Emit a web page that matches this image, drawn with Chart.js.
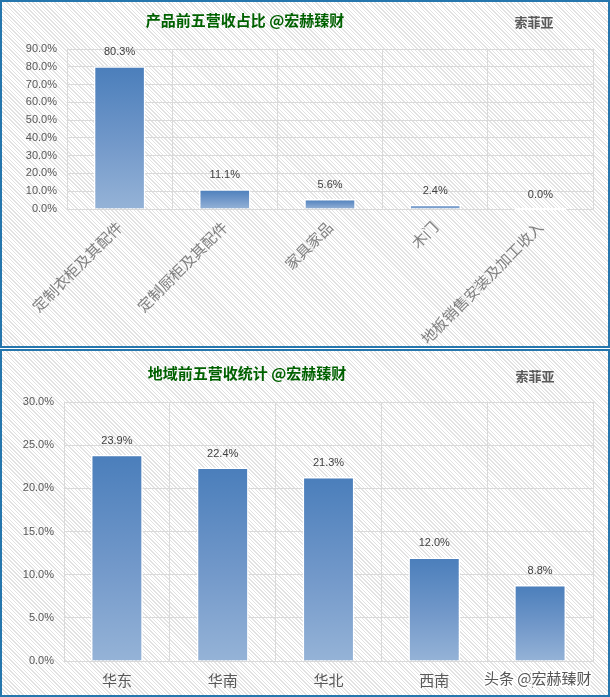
<!DOCTYPE html>
<html><head><meta charset="utf-8">
<script src="https://cdn.jsdelivr.net/npm/chart.js@4/dist/chart.umd.min.js"></script>
<style>
html,body{margin:0;padding:0;background:#fff;}
.box{position:absolute;left:0;width:610px;height:348px;box-sizing:border-box;border:2px solid #2576ad;
background:repeating-linear-gradient(45deg,#ffffff 0px,#ffffff 1.6px,#e2e2e2 1.6px,#e2e2e2 2.6px);}
#b1{top:0}
#b2{top:349px}
canvas{display:block}
</style></head><body>
<div class="box" id="b1"><canvas id="c1" width="606" height="344"></canvas></div>
<div class="box" id="b2"><canvas id="c2" width="606" height="344"></canvas></div>
<script>
const productCats = ['定制衣柜及其配件','定制厨柜及其配件','家具家品','木门','地板销售安装及加工收入'];
const productVals = [80.3, 11.1, 5.6, 2.4, 0.0];
const productTickMax = 90, productTickStep = 10;
const regionCats = ['华东','华南','华北','西南','华中'];
const regionVals = [23.9, 22.4, 21.3, 12.0, 8.8];
const regionTickMax = 30, regionTickStep = 5;

const title1 = '产品前五营收占比 @宏赫臻财';
const title2 = '地域前五营收统计 @宏赫臻财';
const brand = '索菲亚';
const watermark = '头条 @宏赫臻财';

const CJK = '"Noto Sans CJK SC", "Noto Sans", sans-serif';
const NUM = '"Liberation Sans", Arial, sans-serif';

function barGradient(c){
  const chart = c.chart;
  if (!chart.chartArea || c.dataIndex === undefined) return '#6f96c8';
  const y = chart.scales.y;
  const v = c.raw;
  const top = y.getPixelForValue(v);
  const base = y.getPixelForValue(0);
  if (base - top < 1) return '#4a7ebb';
  const g = chart.ctx.createLinearGradient(0, top, 0, base);
  g.addColorStop(0, '#4a7ebb');
  g.addColorStop(0.55, '#7399ca');
  g.addColorStop(1, '#95b3d7');
  return g;
}

function makePlugin(opts){
  return {
    id: 'deco',
    afterDatasetsDraw(chart){
      const ctx = chart.ctx;
      ctx.save();
      const meta = chart.getDatasetMeta(0);
      ctx.font = '11px ' + NUM;
      ctx.fillStyle = '#404040';
      ctx.textAlign = 'center';
      ctx.textBaseline = 'middle';
      meta.data.forEach((el, i) => {
        const v = chart.data.datasets[0].data[i];
        ctx.fillText(v.toFixed(1) + '%', el.x, el.y - 14);
        if (v === 0) {
          ctx.fillStyle = '#ffffff';
          ctx.fillRect(el.x - el.width / 2, el.y - 1, el.width, 2);
          ctx.fillStyle = '#404040';
        }
      });
      ctx.font = 'bold 15px ' + CJK;
      ctx.fillStyle = '#006100';
      ctx.fillText(opts.title, opts.tx, opts.ty);
      ctx.font = 'bold 13px ' + CJK;
      ctx.fillStyle = '#595959';
      ctx.fillText(brand, opts.bx, opts.by);
      if (opts.wm){
        ctx.font = '15px ' + CJK;
        ctx.textAlign = 'left';
        ctx.lineWidth = 3;
        ctx.strokeStyle = 'rgba(255,255,255,0.9)';
        ctx.strokeText(watermark, opts.wx, opts.wy);
        ctx.fillStyle = '#555555';
        ctx.fillText(watermark, opts.wx, opts.wy);
      }
      ctx.restore();
    }
  };
}

function makeChart(id, cats, vals, max, step, cfg){
  return new Chart(document.getElementById(id), {
    type: 'bar',
    data: { labels: cats, datasets: [{
      data: vals,
      backgroundColor: barGradient,
      borderColor: '#ffffff',
      borderWidth: 1.5,
      borderSkipped: 'bottom',
      categoryPercentage: 1,
      barPercentage: 0.49
    }]},
    options: {
      responsive: false,
      animation: false,
      devicePixelRatio: 1,
      layout: { padding: { top: cfg.padTop, right: 15, left: 0, bottom: 0 } },
      plugins: { legend: { display: false }, tooltip: { enabled: false }, title: { display: false } },
      scales: {
        x: {
          grid: { color: '#d9d9d9', drawTicks: false, offset: true },
          border: { color: '#d9d9d9' },
          ticks: {
            color: cfg.xColor,
            font: { family: CJK, size: cfg.xSize },
            padding: cfg.xPad,
            minRotation: cfg.rot, maxRotation: cfg.rot,
            autoSkip: false
          },
          afterFit: s => { s.height = cfg.xHeight; }
        },
        y: {
          min: 0, max: max,
          grid: { color: '#d9d9d9', drawTicks: false },
          border: { display: false },
          ticks: {
            stepSize: step,
            color: '#595959',
            font: { family: NUM, size: 11 },
            padding: 10,
            callback: v => Number(v).toFixed(1) + '%'
          },
          afterFit: s => { s.width = cfg.yWidth; }
        }
      }
    },
    plugins: [makePlugin(cfg)]
  });
}

makeChart('c1', productCats, productVals, productTickMax, productTickStep, {
  padTop: 47, xHeight: 137, yWidth: 65, rot: 45, xColor: '#808080', xSize: 15, xPad: 9,
  title: title1, tx: 243, ty: 18, bx: 532, by: 20
});
makeChart('c2', regionCats, regionVals, regionTickMax, regionTickStep, {
  padTop: 51, xHeight: 34, yWidth: 62, rot: 0, xColor: '#595959', xSize: 15, xPad: 10,
  title: title2, tx: 245, ty: 22, bx: 533, by: 25,
  wm: true, wx: 482, wy: 327
});
</script>
</body></html>
